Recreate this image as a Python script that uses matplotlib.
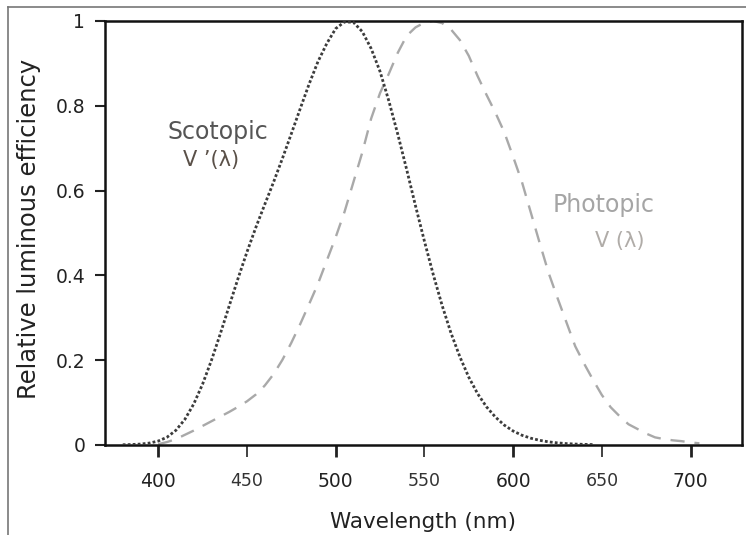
import matplotlib
matplotlib.use('Agg')
import matplotlib.pyplot as plt
from matplotlib.lines import Line2D
from matplotlib.ticker import FixedLocator

# Scotopic V'(lambda), 5 nm steps
scot_wl = [380, 385, 390, 395, 400, 405, 410, 415, 420, 425, 430, 435, 440, 445,
           450, 455, 460, 465, 470, 475, 480, 485, 490, 495, 500, 505, 510, 515,
           520, 525, 530, 535, 540, 545, 550, 555, 560, 565, 570, 575, 580, 585,
           590, 595, 600, 605, 610, 615, 620, 625, 630, 635, 640, 645]
scot_v = [0.0006, 0.0011, 0.0022, 0.0045, 0.0093, 0.0185, 0.0348, 0.0604, 0.0966,
          0.1436, 0.1998, 0.2625, 0.3281, 0.3931, 0.455, 0.513, 0.567, 0.620,
          0.676, 0.734, 0.793, 0.851, 0.904, 0.947, 0.982, 0.998, 0.997, 0.975,
          0.935, 0.881, 0.811, 0.733, 0.650, 0.564, 0.481, 0.402, 0.329, 0.264,
          0.208, 0.160, 0.121, 0.090, 0.066, 0.047, 0.033, 0.023, 0.016, 0.011,
          0.0074, 0.0050, 0.0033, 0.0022, 0.0015, 0.0010]

# Photopic V(lambda), 5 nm steps
phot_wl = [400, 405, 410, 415, 420, 425, 430, 435, 440, 445, 450, 455, 460, 465,
           470, 475, 480, 485, 490, 495, 500, 505, 510, 515, 520, 525, 530, 535,
           540, 545, 550, 555, 560, 565, 570, 575, 580, 585, 590, 595, 600, 605,
           610, 615, 620, 625, 630, 635, 640, 645, 650, 655, 660, 665, 670, 675,
           680, 685, 690, 695, 700, 705]
phot_v = [0.002, 0.007, 0.014, 0.024, 0.034, 0.045, 0.056, 0.067, 0.078, 0.090,
          0.103, 0.119, 0.140, 0.167, 0.201, 0.241, 0.285, 0.332, 0.380, 0.435,
          0.490, 0.550, 0.620, 0.690, 0.770, 0.830, 0.876, 0.925, 0.965, 0.985,
          0.996, 1.000, 0.995, 0.980, 0.955, 0.918, 0.870, 0.826, 0.784, 0.738,
          0.680, 0.620, 0.548, 0.476, 0.406, 0.347, 0.290, 0.233, 0.192, 0.154,
          0.118, 0.089, 0.068, 0.049, 0.038, 0.027, 0.018, 0.014, 0.011, 0.009,
          0.006, 0.004]

x_major = [400, 500, 600, 700]
x_minor = [450, 550, 650]
y_ticks = [0, 0.2, 0.4, 0.6, 0.8, 1]
y_labels = ['0', '0.2', '0.4', '0.6', '0.8', '1']

plt.rcParams['font.family'] = ['DejaVu Sans']

fig = plt.figure(figsize=(7.46, 5.35), dpi=100, facecolor='white')
ax = fig.add_axes([105 / 746, 90 / 535, 637 / 746, 424 / 535])

ax.plot(scot_wl, scot_v, color='#3c3c3c', lw=2.0, dashes=(1.0, 0.8), zorder=3)
ax.plot(phot_wl, phot_v, color='#a9a9a9', lw=1.7, dashes=(6, 4.2), zorder=2)

ax.set_xlim(370, 729)
ax.set_ylim(0, 1)

for s in ax.spines.values():
    s.set_linewidth(1.8)
    s.set_color('#111111')

ax.xaxis.set_major_locator(FixedLocator(x_major))
ax.xaxis.set_minor_locator(FixedLocator(x_minor))
ax.xaxis.set_minor_formatter(plt.FuncFormatter(lambda v, p: '%d' % v))
ax.tick_params(axis='x', which='major', length=8.6, width=2.0, pad=11,
               labelsize=13.5, colors='#222222')
ax.tick_params(axis='x', which='minor', length=8.6, width=1.3, pad=11,
               labelsize=12.5, colors='#333333')

ax.set_yticks(y_ticks)
ax.set_yticklabels(y_labels)
ax.yaxis.set_minor_locator(FixedLocator([0, 1]))
ax.tick_params(axis='y', which='major', length=7.2, width=1.5, pad=7,
               labelsize=13.5, colors='#222222')
ax.tick_params(axis='y', which='minor', length=13, width=1.8)

fig.text(423.5 / 746, 1 - 522 / 535, 'Wavelength (nm)', ha='center', va='center',
         fontsize=15.5, color='#222222')
fig.text(29 / 746, 1 - 229 / 535, 'Relative luminous efficiency', rotation=90,
         ha='center', va='center', fontsize=17.5, color='#222222')

ax.text(405.5, 0.738, 'Scotopic', fontsize=17, color='#555555', ha='left', va='center')
ax.text(414, 0.672, 'V \u2019(\u03bb)', fontsize=15, color='#5a5048', ha='left', va='center')
ax.text(622, 0.566, 'Photopic', fontsize=17, color='#a5a5a5', ha='left', va='center')
ax.text(646, 0.481, 'V (\u03bb)', fontsize=15, color='#b0aca8', ha='left', va='center')

# outer frame of the source figure (top and left edges only)
fig.add_artist(Line2D([8 / 746, 1], [1 - 7 / 535, 1 - 7 / 535], color='#777777', lw=1.2))
fig.add_artist(Line2D([8 / 746, 8 / 746], [0, 1 - 7 / 535], color='#777777', lw=1.2))

fig.savefig('out.png', dpi=100, facecolor='white')
